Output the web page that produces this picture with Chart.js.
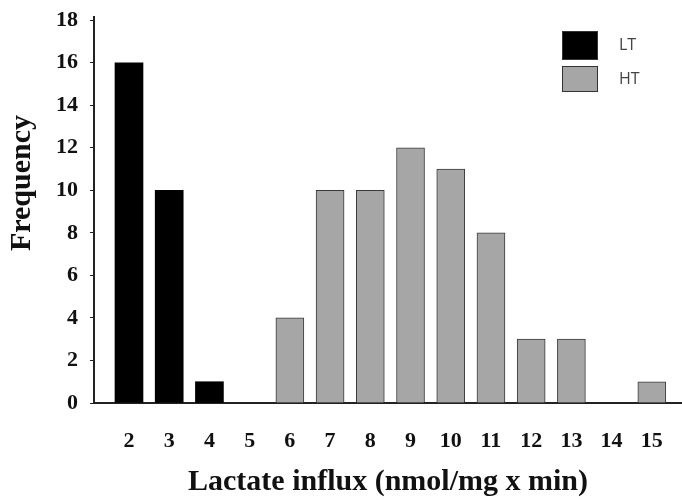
<!DOCTYPE html>
<html>
<head>
<meta charset="utf-8">
<script src="https://cdn.jsdelivr.net/npm/chart.js@4.4.0/dist/chart.umd.min.js"></script>
<style>
  html, body { margin: 0; padding: 0; background: #fff; }
  #wrap { width: 682px; height: 500px; position: relative; }
</style>
</head>
<body>
<div id="wrap"><canvas id="chart"></canvas></div>
<script>
// valeurs
const influx = [2, 3, 4, 5, 6, 7, 8, 9, 10, 11, 12, 13, 14, 15];
const ltCounts = [16, 10, 1, null, null, null, null, null, null, null, null, null, null, null];
const htCounts = [null, null, null, null, 4, 10, 10, 12, 11, 8, 3, 3, null, 1];
const yTicks = [0, 2, 4, 6, 8, 10, 12, 14, 16, 18];
const yTitle = 'Frequency';

const serif = "'Liberation Serif', 'DejaVu Serif', serif";

function toPoints(counts) {
    return influx.map((x, i) => ({ x: x, y: counts[i] })).filter(p => p.y !== null);
}

// legende dans le coin haut droit + titre vertical (un peu au-dessus du centre)
const extras = {
    id: 'extras',
    afterDraw(chart) {
        const ctx = chart.ctx;
        const items = [
            { y: 31, h: 29, ds: chart.data.datasets[0] },
            { y: 66, h: 26, ds: chart.data.datasets[1] }
        ];
        ctx.save();
        items.forEach(it => {
            ctx.fillStyle = it.ds.backgroundColor;
            ctx.fillRect(562, it.y, 36, it.h);
            ctx.strokeStyle = '#333';
            ctx.lineWidth = 1;
            ctx.strokeRect(562.5, it.y + 0.5, 35, it.h - 1);
            ctx.fillStyle = '#444';
            ctx.font = "16px 'Open Sans', sans-serif";
            ctx.textBaseline = 'middle';
            ctx.fillText(it.ds.label, 619, it.y + it.h / 2);
        });

        ctx.translate(22, 183);
        ctx.rotate(-Math.PI / 2);
        ctx.fillStyle = '#111';
        ctx.font = 'bold 30px ' + serif;
        ctx.textAlign = 'center';
        ctx.textBaseline = 'middle';
        ctx.fillText(yTitle, 0, 0);
        ctx.restore();
    }
};

new Chart(document.getElementById('chart'), {
    type: 'bar',
    data: {
        datasets: [{
            label: 'LT',
            data: toPoints(ltCounts),
            backgroundColor: '#000000',
            borderColor: '#000000',
            borderWidth: 0
        }, {
            label: 'HT',
            data: toPoints(htCounts),
            backgroundColor: '#a6a6a6',
            borderColor: '#3a3a3a',
            borderWidth: 1
        }]
    },
    options: {
        responsive: true,
        maintainAspectRatio: false,
        animation: false,
        grouped: false,
        barThickness: 28,
        layout: { padding: { top: 17, right: 0, left: 0, bottom: 0 } },
        plugins: {
            legend: { display: false },
            tooltip: { enabled: false }
        },
        scales: {
            x: {
                type: 'linear',
                offset: false,
                min: 1.13,
                max: 15.75,
                afterBuildTicks: s => { s.ticks = influx.map(v => ({ value: v })); },
                afterFit: s => { s.height = 97; s.paddingLeft = 0; s.paddingRight = 0; },
                grid: { display: false, drawTicks: false },
                border: { display: true, color: '#222', width: 2 },
                ticks: {
                    padding: 25,
                    color: '#111',
                    font: { family: serif, size: 22, weight: 'bold' }
                },
                title: {
                    display: true,
                    text: 'Lactate influx (nmol/mg x min)',
                    color: '#111',
                    padding: { top: 0, bottom: 0 },
                    font: { family: serif, size: 30, weight: 'bold' }
                }
            },
            y: {
                min: 0,
                max: 18.15,
                afterBuildTicks: s => { s.ticks = yTicks.map(v => ({ value: v })); },
                afterFit: s => { s.width = 94; s.paddingTop = 0; s.paddingBottom = 0; },
                grid: { drawOnChartArea: false, drawTicks: true, tickLength: 4, color: '#222', lineWidth: 1 },
                border: { display: true, color: '#222', width: 2 },
                ticks: {
                    padding: 12,
                    color: '#111',
                    font: { family: serif, size: 22, weight: 'bold' }
                },
                title: { display: false }
            }
        }
    },
    plugins: [extras]
});
</script>
</body>
</html>
